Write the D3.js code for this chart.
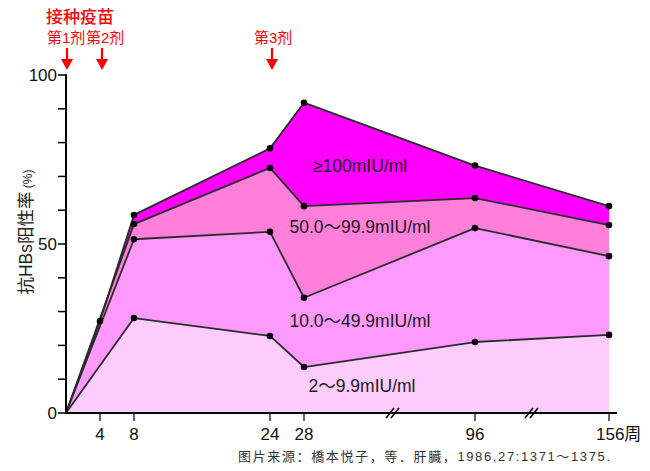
<!DOCTYPE html>
<html><head><meta charset="utf-8">
<script src="https://cdn.jsdelivr.net/npm/d3@7"></script>
<style>body{margin:0;background:#fff}svg{display:block}</style>
</head><body>
<script>
const weeks = [0, 4, 8, 24, 28, 96, 156];
const xTickWeeks = [4, 8, 24, 28, 96, 156];
const xTickLabels = ["4", "8", "24", "28", "96", "156周"];
const yTicks = [0, 10, 20, 30, 40, 50, 60, 70, 80, 90, 100];
const yTickLabels = {0: "0", 50: "50", 100: "100"};
// cumulative positivity (%) per antibody titre level; null = no measurement
const seriesNames = ["2～9.9mIU/ml", "10.0～49.9mIU/ml", "50.0～99.9mIU/ml", "≥100mIU/ml"];
const cum2 = [0, null, 28.1, 22.8, 13.6, 21.0, 23.1];
const cum10 = [0, null, 51.4, 53.6, 34.1, 54.7, 46.4];
const cum50 = [0, null, 55.9, 72.5, 61.2, 63.6, 55.6];
const cum100 = [0, 27.2, 58.6, 78.3, 91.8, 73.2, 61.2];
const seriesData = [cum2, cum10, cum50, cum100];
const colors = ["#FFCCFF", "#FF99FF", "#FF7FDA", "#FF00FF"];
const doseWeeks = [0, 4, 24];

const W = 650, H = 471;
const svg = d3.select("body").append("svg").attr("width", W).attr("height", H);
const font = "Arial, 'Liberation Sans', 'Noto Sans CJK SC', sans-serif";

const x = d3.scaleLinear().domain(weeks).range([66, 100, 134, 270, 304, 475, 609]);
const y = d3.scaleLinear().domain([0, 100]).range([413, 75]);

const pts = s => weeks.map((w, i) => ({w, v: s[i]})).filter(d => d.v !== null);
const area = d3.area().x(d => x(d.w)).y0(y(0)).y1(d => y(d.v));
const line = d3.line().x(d => x(d.w)).y(d => y(d.v));

for (let i = seriesData.length - 1; i >= 0; i--) {
  svg.append("path").attr("d", area(pts(seriesData[i]))).attr("fill", colors[i]);
}
seriesData.forEach(s => {
  svg.append("path").attr("d", line(pts(s))).attr("fill", "none")
    .attr("stroke", "#2b2b2b").attr("stroke-width", 1.8).attr("stroke-linejoin", "round");
});
seriesData.forEach(s => {
  svg.selectAll(null).data(pts(s).filter(d => d.w > 0)).enter().append("circle")
    .attr("cx", d => x(d.w)).attr("cy", d => y(d.v)).attr("r", 3.3).attr("fill", "#000");
});

// band labels
const labelPos = [[362, 392], [360, 327], [360, 233], [360, 172]];
seriesNames.forEach((n, i) => {
  svg.append("text").attr("x", labelPos[i][0]).attr("y", labelPos[i][1])
    .attr("text-anchor", "middle").attr("font-family", font).attr("font-size", 17.5)
    .attr("fill", "#1a1a1a").text(n);
});

// y axis
svg.append("line").attr("x1", 66).attr("x2", 66).attr("y1", y(100) - 1).attr("y2", y(0) + 1)
  .attr("stroke", "#000").attr("stroke-width", 2);
yTicks.forEach(t => {
  svg.append("line").attr("x1", 58).attr("x2", 66).attr("y1", y(t)).attr("y2", y(t))
    .attr("stroke", "#000").attr("stroke-width", 1.5);
  if (yTickLabels[t] !== undefined) {
    svg.append("text").attr("x", 57).attr("y", y(t) + 6).attr("text-anchor", "end")
      .attr("font-family", font).attr("font-size", 17).attr("fill", "#111").text(yTickLabels[t]);
  }
});
const yt = svg.append("text").attr("transform", "translate(32,232) rotate(-90)")
  .attr("text-anchor", "middle").attr("font-family", font).attr("font-size", 17.5).attr("fill", "#222");
yt.append("tspan").text("抗HBs阳性率");
yt.append("tspan").attr("font-size", 12).text(" (%)");

// x axis
svg.append("line").attr("x1", 65).attr("x2", 617).attr("y1", y(0)).attr("y2", y(0))
  .attr("stroke", "#000").attr("stroke-width", 2);
xTickWeeks.forEach((w, i) => {
  svg.append("line").attr("x1", x(w)).attr("x2", x(w)).attr("y1", y(0)).attr("y2", y(0) + 8)
    .attr("stroke", "#000").attr("stroke-width", 1.2);
  const isLast = i === xTickWeeks.length - 1;
  svg.append("text").attr("x", isLast ? x(w) - 13 : x(w)).attr("y", 440).attr("text-anchor", isLast ? "start" : "middle")
    .attr("font-family", font).attr("font-size", 17).attr("fill", "#111").text(xTickLabels[i]);
});
// axis break marks
[393, 532].forEach(bx => {
  [-3, 2].forEach(o => {
    svg.append("line").attr("x1", bx + o - 4).attr("x2", bx + o + 4).attr("y1", y(0) + 5).attr("y2", y(0) - 5)
      .attr("stroke", "#000").attr("stroke-width", 1.5);
  });
});

// source
svg.append("text").attr("x", 238).attr("y", 461)
  .attr("font-family", font).attr("font-size", 13).attr("fill", "#333")
  .attr("textLength", 372).attr("lengthAdjust", "spacing")
  .text("图片来源：橋本悦子，等．肝臓，1986,27:1371～1375.");

// vaccination annotations
svg.append("text").attr("x", 46).attr("y", 23).attr("font-family", font).attr("font-size", 17)
  .attr("font-weight", 500).attr("fill", "#FF0000").text("接种疫苗");
const doseLabels = ["第1剂", "第2剂", "第3剂"];
const doseLabelX = [47, 86, 254];
doseLabels.forEach((t, i) => {
  svg.append("text").attr("x", doseLabelX[i]).attr("y", 43).attr("font-family", font).attr("font-size", 15)
    .attr("fill", "#FF0000").text(t);
});
doseWeeks.forEach(w => {
  const cx = x(w) + (w === 0 ? 1 : 2);
  svg.append("line").attr("x1", cx).attr("x2", cx).attr("y1", 48).attr("y2", 62)
    .attr("stroke", "#FF0000").attr("stroke-width", 2.2);
  svg.append("path").attr("d", `M${cx - 6},${59} L${cx + 6},${59} L${cx},${70} Z`).attr("fill", "#FF0000");
});
</script>
</body></html>
